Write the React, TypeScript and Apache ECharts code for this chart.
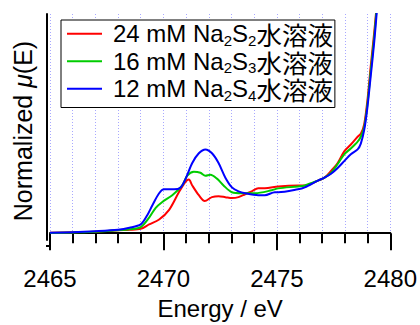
import React, { useEffect, useRef } from "react";
import * as echarts from "echarts";

// Energy (eV) and normalized mu(E) for each solution
const redE = [2465, 2466, 2467, 2468, 2468.5, 2469, 2469.37, 2469.81, 2470.25, 2470.68, 2470.98, 2471.12, 2471.27, 2471.56, 2471.82, 2472.14, 2472.43, 2472.73, 2473.02, 2473.31, 2473.6, 2473.89, 2474.18, 2474.47, 2475.06, 2475.93, 2476.23, 2476.81, 2477.1, 2477.39, 2477.68, 2477.97, 2478.26, 2478.56, 2478.7, 2478.85, 2478.99, 2479.14, 2479.29, 2479.37, 2479.55];
const redMu = [0.005, 0.01, 0.015, 0.03, 0.035, 0.045, 0.09, 0.14, 0.24, 0.42, 0.53, 0.55, 0.49, 0.39, 0.33, 0.37, 0.38, 0.37, 0.36, 0.37, 0.4, 0.43, 0.46, 0.46, 0.48, 0.49, 0.49, 0.54, 0.57, 0.64, 0.72, 0.84, 0.91, 0.99, 1.02, 1.12, 1.36, 1.72, 2.06, 2.26, 2.8];

const greenE = [2465, 2466, 2467, 2468, 2468.5, 2469, 2469.37, 2469.66, 2469.95, 2470.39, 2470.83, 2471.05, 2471.34, 2471.63, 2471.85, 2472.07, 2472.36, 2472.65, 2473.02, 2473.45, 2474.04, 2474.77, 2475.06, 2475.93, 2476.23, 2476.81, 2477.1, 2477.39, 2477.68, 2477.97, 2478.26, 2478.56, 2478.7, 2478.85, 2478.99, 2479.14, 2479.29, 2479.38, 2479.55];
const greenMu = [0.002, 0.008, 0.015, 0.03, 0.04, 0.063, 0.16, 0.26, 0.32, 0.39, 0.49, 0.59, 0.63, 0.62, 0.59, 0.6, 0.56, 0.49, 0.42, 0.41, 0.41, 0.44, 0.46, 0.48, 0.49, 0.54, 0.57, 0.62, 0.71, 0.81, 0.87, 0.94, 0.99, 1.09, 1.32, 1.67, 2.01, 2.26, 2.8];

const blueE = [2465, 2466, 2467, 2468, 2468.5, 2469, 2469.3, 2469.52, 2469.81, 2470.03, 2470.47, 2470.76, 2470.98, 2471.27, 2471.56, 2471.85, 2472.14, 2472.43, 2472.73, 2473.02, 2473.31, 2473.6, 2474.18, 2474.47, 2474.91, 2475.06, 2475.93, 2476.23, 2476.81, 2477.1, 2477.39, 2477.68, 2477.97, 2478.26, 2478.56, 2478.7, 2478.85, 2478.99, 2479.14, 2479.29, 2479.4, 2479.6];
const blueMu = [0.005, 0.01, 0.02, 0.035, 0.055, 0.09, 0.19, 0.29, 0.41, 0.45, 0.45, 0.47, 0.56, 0.72, 0.82, 0.86, 0.82, 0.72, 0.57, 0.47, 0.43, 0.41, 0.39, 0.39, 0.42, 0.42, 0.45, 0.47, 0.54, 0.57, 0.61, 0.67, 0.74, 0.81, 0.86, 0.92, 1.06, 1.29, 1.62, 1.96, 2.26, 2.8];

const seriesNames = ["24 mM Na2S2水溶液", "16 mM Na2S3水溶液", "12 mM Na2S4水溶液"];
const seriesColors = ["#ff0000", "#00cc00", "#0000ff"];

const xTitle = "Energy / eV";
const xMin = 2465;
const xMax = 2480;
const xStep = 5;

const FONT = "Liberation Sans, Arial, Helvetica, sans-serif";
const CJK = "Noto Sans CJK JP, sans-serif";

const zip = (xs: number[], ys: number[]) => xs.map((x, i) => [x, ys[i]]);

export default function App() {
  const ref = useRef<HTMLDivElement>(null);
  useEffect(() => {
    if (!ref.current) return;
    const chart = echarts.init(ref.current, null, { renderer: "svg" });
    const data = [zip(redE, redMu), zip(greenE, greenMu), zip(blueE, blueMu)];
    const gridStyle = { color: "#a8a8ff", width: 1, type: [1, 2] as any };
    chart.setOption({
      animation: false,
      backgroundColor: "#fff",
      textStyle: { fontFamily: FONT },
      grid: { left: 50, right: 27, top: 14, bottom: 79, containLabel: false },
      legend: {
        orient: "vertical",
        left: 61,
        top: 20,
        backgroundColor: "#fff",
        borderColor: "#000",
        borderWidth: 1,
        borderRadius: 0,
        padding: [0, 2, 5, 6],
        itemGap: 0,
        itemWidth: 35,
        itemHeight: 2,
        icon: "rect",
        data: seriesNames,
        formatter: (name: string) => {
          const m = name.match(/^(.*Na)(\d)S(\d)(.*)$/);
          if (!m) return name;
          return `${m[1]}{s|${m[2]}}S{s|${m[3]}}{c|${m[4]}}`;
        },
        textStyle: {
          fontSize: 24,
          color: "#000",
          fontFamily: FONT,
          lineHeight: 27.5,
          padding: [0, 0, 0, 6],
          rich: {
            s: { fontSize: 15, lineHeight: 27.5, verticalAlign: "bottom", fontFamily: FONT, color: "#000" },
            c: { fontSize: 25.5, lineHeight: 27.5, fontFamily: CJK, color: "#000" },
          },
        },
      },
      xAxis: {
        type: "value",
        min: xMin,
        max: xMax,
        interval: xStep,
        name: xTitle,
        nameLocation: "middle",
        nameGap: 56,
        nameTextStyle: { fontSize: 24, color: "#000", fontFamily: FONT },
        axisLine: { show: true, lineStyle: { color: "#000", width: 2 } },
        axisTick: { show: true, length: 17, lineStyle: { color: "#000", width: 2 } },
        minorTick: { show: true, splitNumber: 5, length: 10, lineStyle: { color: "#000", width: 2 } },
        axisLabel: { fontSize: 24, color: "#000", margin: 26, fontFamily: FONT, formatter: (v: number) => String(v) },
        splitLine: { show: true, lineStyle: gridStyle },
        minorSplitLine: { show: true, lineStyle: gridStyle },
      },
      yAxis: {
        type: "value",
        min: -0.07,
        max: 2.25,
        offset: 3,
        name: "Normalized {i|μ}(E)",
        nameLocation: "middle",
        nameGap: 12,
        nameTextStyle: {
          fontSize: 25,
          color: "#000",
          fontFamily: FONT,
          padding: [0, 8, 0, 0],
          rich: { i: { fontSize: 25, fontStyle: "italic", color: "#000", fontFamily: FONT } },
        },
        axisLine: { show: true, lineStyle: { color: "#000", width: 2 } },
        axisTick: { show: false },
        axisLabel: { show: false },
        splitLine: { show: false },
      },
      graphic: [
        { type: "line", shape: { x1: 46, y1: 246, x2: 51, y2: 246 }, style: { stroke: "#000", lineWidth: 2 } },
      ],
      series: seriesNames.map((name, i) => ({
        name,
        type: "line",
        data: data[i],
        symbol: "none",
        smooth: 0.3,
        clip: true,
        lineStyle: { color: seriesColors[i], width: 2 },
        itemStyle: { color: seriesColors[i] },
      })),
    });
    return () => chart.dispose();
  }, []);
  return <div ref={ref} style={{ width: 420, height: 325, position: "absolute", left: 0, top: 0 }} />;
}
